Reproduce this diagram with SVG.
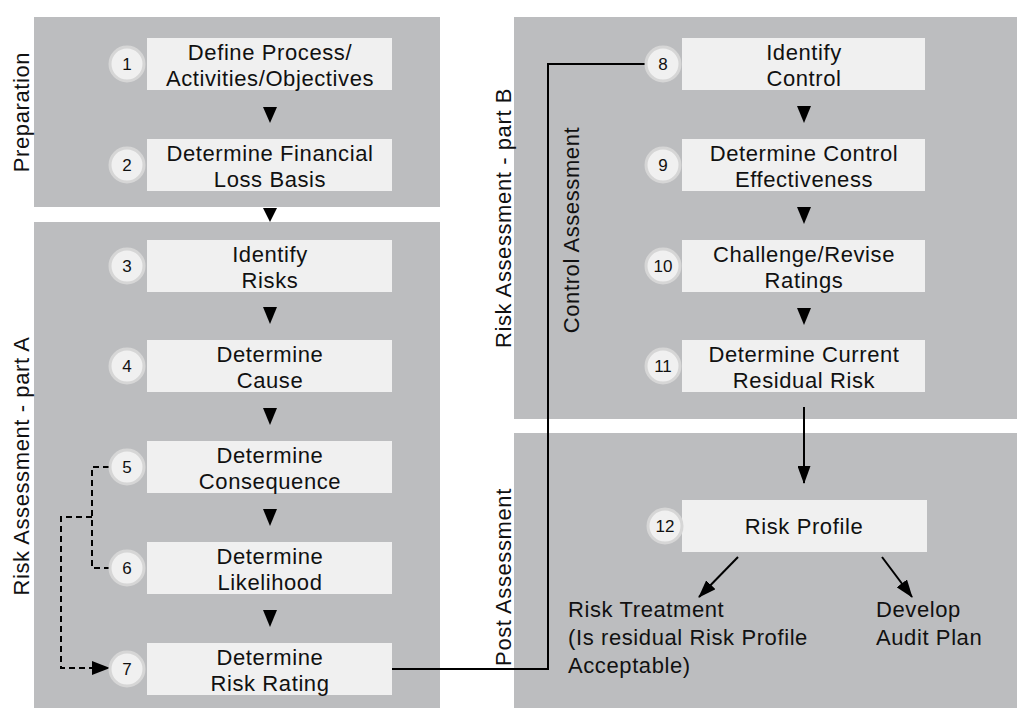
<svg xmlns="http://www.w3.org/2000/svg" width="1017" height="711" viewBox="0 0 1017 711">
<defs>
<style>
.panel{fill:#bcbdbf}
.box{fill:#f0f0f0}
.t{font-family:"Liberation Sans",Arial,sans-serif;font-size:22px;letter-spacing:0.6px;fill:#111;text-anchor:middle}
.lbl{font-family:"Liberation Sans",Arial,sans-serif;font-size:22px;letter-spacing:0.6px;fill:#111}
.num{font-family:"Liberation Sans",Arial,sans-serif;font-size:17px;fill:#111;text-anchor:middle}
.ring{fill:#f0f0f0;stroke:#d6d6d6;stroke-width:3}
.tri{fill:#000}
.ln{fill:none;stroke:#000;stroke-width:2}
.dash{fill:none;stroke:#000;stroke-width:2;stroke-dasharray:6 4}
</style>
<marker id="ah" viewBox="0 0 18 13" refX="17" refY="6.5" markerWidth="9" markerHeight="6.5" markerUnits="strokeWidth" orient="auto">
<path d="M0,0 L18,6.5 L0,13 z" fill="#000"/>
</marker>
</defs>

<g id="panels">
<rect class="panel" x="34" y="17" width="406" height="190"/>
<rect class="panel" x="34" y="222" width="406" height="486"/>
<rect class="panel" x="514" y="17" width="503" height="402"/>
<rect class="panel" x="514" y="433" width="503" height="275"/>
<text class="lbl" transform="translate(29,112) rotate(-90)" text-anchor="middle">Preparation</text>
<text class="lbl" transform="translate(29,466) rotate(-90)" text-anchor="middle">Risk Assessment - part A</text>
<text class="lbl" transform="translate(511,218) rotate(-90)" text-anchor="middle">Risk Assessment - part B</text>
<text class="lbl" transform="translate(579,230) rotate(-90)" text-anchor="middle">Control Assessment</text>
<text class="lbl" transform="translate(511,577) rotate(-90)" text-anchor="middle">Post Assessment</text>
</g>

<g id="connectors">
<polygon class="tri" points="263,107 277,107 270,123"/>
<polygon class="tri" points="263,208 277,208 270,222"/>
<polygon class="tri" points="263,307 277,307 270,324"/>
<polygon class="tri" points="263,408 277,408 270,425"/>
<polygon class="tri" points="263,509 277,509 270,526"/>
<polygon class="tri" points="263,610 277,610 270,627"/>
<polygon class="tri" points="797,106 811,106 804,123"/>
<polygon class="tri" points="797,207 811,207 804,224"/>
<polygon class="tri" points="797,308 811,308 804,325"/>
<line class="ln" x1="804" y1="407" x2="804" y2="483" marker-end="url(#ah)"/>
<polyline class="ln" points="392,669 548,669 548,64 645,64"/>
<polyline class="dash" points="109,467 92,467 92,568 109,568"/>
<polyline class="dash" points="92,517 61,517 61,668 94,668"/>
<polygon class="tri" points="92,661 110,668 92,675"/>
<line class="ln" x1="738" y1="557" x2="699" y2="597" marker-end="url(#ah)"/>
<line class="ln" x1="882" y1="557" x2="912" y2="597" marker-end="url(#ah)"/>
</g>

<g id="n1"><rect class="box" x="147" y="38" width="245" height="52"/><circle class="ring" cx="127" cy="64" r="17"/><text class="num" x="127" y="70">1</text><text class="t" x="270" y="60">Define Process/</text><text class="t" x="270" y="86">Activities/Objectives</text></g>
<g id="n2"><rect class="box" x="147" y="139" width="245" height="52"/><circle class="ring" cx="127" cy="165" r="17"/><text class="num" x="127" y="171">2</text><text class="t" x="270" y="161">Determine Financial</text><text class="t" x="270" y="187">Loss Basis</text></g>
<g id="n3"><rect class="box" x="147" y="240" width="245" height="52"/><circle class="ring" cx="127" cy="266" r="17"/><text class="num" x="127" y="272">3</text><text class="t" x="270" y="262">Identify</text><text class="t" x="270" y="288">Risks</text></g>
<g id="n4"><rect class="box" x="147" y="340" width="245" height="52"/><circle class="ring" cx="127" cy="366" r="17"/><text class="num" x="127" y="372">4</text><text class="t" x="270" y="362">Determine</text><text class="t" x="270" y="388">Cause</text></g>
<g id="n5"><rect class="box" x="147" y="441" width="245" height="52"/><circle class="ring" cx="127" cy="467" r="17"/><text class="num" x="127" y="473">5</text><text class="t" x="270" y="463">Determine</text><text class="t" x="270" y="489">Consequence</text></g>
<g id="n6"><rect class="box" x="147" y="542" width="245" height="52"/><circle class="ring" cx="127" cy="568" r="17"/><text class="num" x="127" y="574">6</text><text class="t" x="270" y="564">Determine</text><text class="t" x="270" y="590">Likelihood</text></g>
<g id="n7"><rect class="box" x="147" y="643" width="245" height="52"/><circle class="ring" cx="127" cy="669" r="17"/><text class="num" x="127" y="675">7</text><text class="t" x="270" y="665">Determine</text><text class="t" x="270" y="691">Risk Rating</text></g>
<g id="n8"><rect class="box" x="682" y="38" width="243" height="52"/><circle class="ring" cx="663" cy="64" r="17"/><text class="num" x="663" y="70">8</text><text class="t" x="804" y="60">Identify</text><text class="t" x="804" y="86">Control</text></g>
<g id="n9"><rect class="box" x="682" y="139" width="243" height="52"/><circle class="ring" cx="663" cy="165" r="17"/><text class="num" x="663" y="171">9</text><text class="t" x="804" y="161">Determine Control</text><text class="t" x="804" y="187">Effectiveness</text></g>
<g id="n10"><rect class="box" x="682" y="240" width="243" height="52"/><circle class="ring" cx="663" cy="266" r="17"/><text class="num" x="663" y="272">10</text><text class="t" x="804" y="262">Challenge/Revise</text><text class="t" x="804" y="288">Ratings</text></g>
<g id="n11"><rect class="box" x="682" y="340" width="243" height="52"/><circle class="ring" cx="663" cy="366" r="17"/><text class="num" x="663" y="372">11</text><text class="t" x="804" y="362">Determine Current</text><text class="t" x="804" y="388">Residual Risk</text></g>
<g id="n12"><rect class="box" x="682" y="500" width="245" height="52"/><circle class="ring" cx="665" cy="526" r="17"/><text class="num" x="665" y="532">12</text><text class="t" x="804" y="534">Risk Profile</text></g>
<g id="treatment"><text class="lbl" x="568" y="617">Risk Treatment</text><text class="lbl" x="568" y="645">(Is residual Risk Profile</text><text class="lbl" x="568" y="673">Acceptable)</text></g>
<g id="audit"><text class="lbl" x="876" y="617">Develop</text><text class="lbl" x="876" y="645">Audit Plan</text></g>
</svg>
